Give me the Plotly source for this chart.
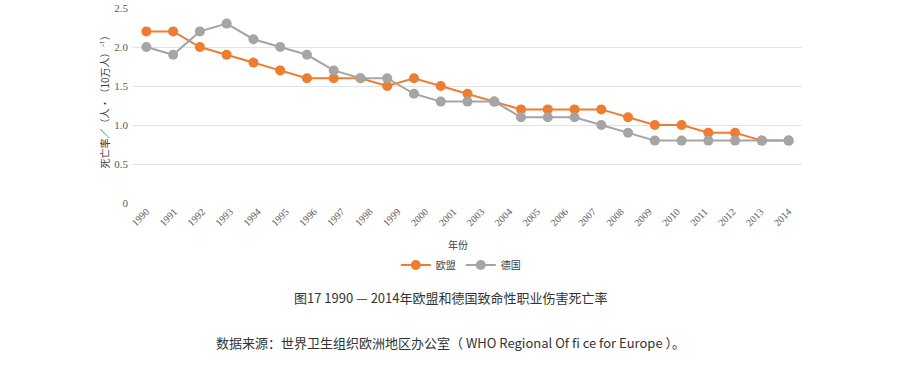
import plotly.graph_objects as go

years = list(range(1990, 2015))
eu = [2.2, 2.2, 2.0, 1.9, 1.8, 1.7, 1.6, 1.6, 1.6, 1.5, 1.6, 1.5, 1.4, 1.3,
      1.2, 1.2, 1.2, 1.2, 1.1, 1.0, 1.0, 0.9, 0.9, 0.8, 0.8]
de = [2.0, 1.9, 2.2, 2.3, 2.1, 2.0, 1.9, 1.7, 1.6, 1.6, 1.4, 1.3, 1.3, 1.3,
      1.1, 1.1, 1.1, 1.0, 0.9, 0.8, 0.8, 0.8, 0.8, 0.8, 0.8]
tick_labels = ["1990", "1991", "1992", "1993", "1994", "1995", "1996", "1997",
               "1998", "1999", "2000", "2001", "2003", "2004", "2005", "2006",
               "2007", "2008", "2009", "2010", "2011", "2012", "2013", "2014"]
y_ticks = [0, 0.5, 1.0, 1.5, 2.0, 2.5]
y_tick_text = ["0", "0.5", "1.0", "1.5", "2.0", "2.5"]

n = len(tick_labels)
span = years[-1] - years[0]
tickvals = [years[0] + i * span / (n - 1) for i in range(n)]

ORANGE = "#ED7D31"
GRAY = "#A5A5A5"

fig = go.Figure()
fig.add_trace(go.Scatter(x=years, y=eu, name="欧盟", mode="lines+markers",
                         line=dict(color=ORANGE, width=2),
                         marker=dict(color=ORANGE, size=10)))
fig.add_trace(go.Scatter(x=years, y=de, name="德国", mode="lines+markers",
                         line=dict(color=GRAY, width=2),
                         marker=dict(color=GRAY, size=10)))

serif = "Liberation Serif"
fig.update_layout(
    width=902, height=367,
    margin=dict(l=133, r=100, t=8, b=164, autoexpand=False),
    paper_bgcolor="white", plot_bgcolor="white",
    showlegend=True,
    legend=dict(orientation="h", x=0.49, y=-0.318, xanchor="center", yanchor="middle",
                font=dict(family="Noto Sans CJK SC", size=10, color="#404040"),
                itemwidth=30),
    xaxis=dict(range=[1989.5, 2014.5], tickmode="array", tickvals=tickvals,
               ticktext=tick_labels, tickangle=-45, showgrid=False, zeroline=False,
               showline=False, ticks="", automargin=False,
               tickfont=dict(family=serif, size=10, color="#595959")),
    yaxis=dict(range=[0, 2.5], tickmode="array", tickvals=y_ticks,
               ticktext=y_tick_text, showgrid=True, gridcolor="#E3E3E3",
               gridwidth=1, zeroline=False, showline=False, ticks="", automargin=False,
               ticklabelstandoff=4,
               tickfont=dict(family=serif, size=11, color="#595959")),
)

fig.add_annotation(text="死亡率／（人•（10万人）⁻¹）", textangle=-90, xref="paper", yref="paper",
                   x=-0.042, y=0.53, xanchor="center", yanchor="middle", showarrow=False,
                   font=dict(family="Noto Sans CJK SC", size=10, color="#404040"))
fig.add_annotation(text="年份", xref="paper", yref="paper", x=0.486, y=-0.215,
                   xanchor="center", yanchor="middle", showarrow=False,
                   font=dict(family="Noto Sans CJK SC", size=10, color="#404040"))
fig.add_annotation(text="图17 1990 — 2014年欧盟和德国致命性职业伤害死亡率",
                   xref="paper", yref="paper", x=0.475, y=-0.487, xanchor="center",
                   yanchor="middle", showarrow=False,
                   font=dict(family="Noto Sans CJK SC", size=13, color="#333333"))
fig.add_annotation(text="数据来源：世界卫生组织欧洲地区办公室（ WHO Regional Of fi ce for Europe ）。",
                   xref="paper", yref="paper", x=0.475, y=-0.713, xanchor="center",
                   yanchor="middle", showarrow=False,
                   font=dict(family="Noto Sans CJK SC", size=13, color="#333333"))

fig.write_html("out.html", config={"displayModeBar": False},
               post_script="document.body.style.margin='0';")
